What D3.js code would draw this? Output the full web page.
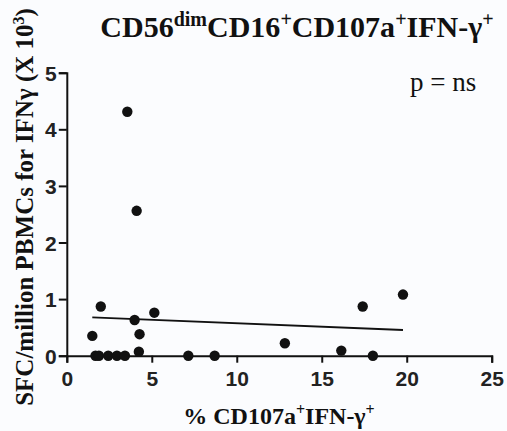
<!DOCTYPE html>
<html>
<head>
<meta charset="utf-8">
<script src="https://cdn.jsdelivr.net/npm/d3@7"></script>
<style>
  html, body { margin: 0; padding: 0; background: #fbfcfe; }
  svg { display: block; }
</style>
</head>
<body>
<svg id="chart" width="507" height="431"></svg>
<script>
// % CD107a+IFN-γ+ per donor
const pctCD107aIFNg = [3.56, 4.11, 2.0, 5.15, 3.99, 1.5, 4.28, 4.24, 1.69, 1.89, 2.44, 2.95, 3.42, 7.15, 8.7, 12.83, 16.15, 17.41, 19.78, 18.01];
// SFC/million PBMCs for IFNγ (x 10^3) per donor
const sfcIFNg = [4.31, 2.56, 0.87, 0.76, 0.63, 0.35, 0.38, 0.07, 0, 0, 0, 0, 0, 0, 0, 0.22, 0.09, 0.87, 1.08, 0];
const xTicks = [0, 5, 10, 15, 20, 25];
const yTicks = [0, 1, 2, 3, 4, 5];
const pLabel = "p = ns";

const svg = d3.select("#chart");
const x = d3.scaleLinear().domain([0, 25]).range([66.8, 491.7]);
const y = d3.scaleLinear().domain([0, 5]).range([355.7, 72.7]);

const data = pctCD107aIFNg.map((v, i) => ({ x: v, y: sfcIFNg[i] }));

// least-squares fit over the observed range
const mx = d3.mean(data, d => d.x), my = d3.mean(data, d => d.y);
const sxy = d3.sum(data, d => (d.x - mx) * (d.y - my));
const sxx = d3.sum(data, d => (d.x - mx) ** 2);
const slope = sxy / sxx, intercept = my - slope * mx;
const [x0, x1] = d3.extent(data, d => d.x);

// axes
const xAxis = svg.append("g")
  .attr("transform", `translate(0,${y(0)})`)
  .call(d3.axisBottom(x).tickValues(xTicks).tickSize(7).tickPadding(8).tickFormat(d3.format("d")));
const yAxis = svg.append("g")
  .attr("transform", `translate(${x(0)},0)`)
  .call(d3.axisLeft(y).tickValues(yTicks).tickSize(8).tickPadding(2).tickFormat(d3.format("d")));

[xAxis, yAxis].forEach(g => {
  g.select(".domain").attr("stroke", "#111").attr("stroke-width", 2);
  g.selectAll(".tick line").attr("stroke", "#111").attr("stroke-width", 2);
  g.selectAll(".tick text")
    .attr("fill", "#222")
    .style("font-family", "'Liberation Sans', Arial, sans-serif")
    .style("font-weight", "bold")
    .style("font-size", "21px");
});
yAxis.selectAll(".tick text").attr("dy", "0.36em");

// regression line
svg.append("line")
  .attr("x1", x(x0)).attr("y1", y(intercept + slope * x0))
  .attr("x2", x(x1)).attr("y2", y(intercept + slope * x1))
  .attr("stroke", "#111").attr("stroke-width", 1.8);

// points
svg.append("g").selectAll("circle")
  .data(data)
  .join("circle")
  .attr("cx", d => x(d.x))
  .attr("cy", d => y(d.y))
  .attr("r", 5.2)
  .attr("fill", "#111");

const serif = "'Liberation Serif', 'Times New Roman', serif";

// title
const title = svg.append("text")
  .attr("x", 297).attr("y", 37)
  .attr("text-anchor", "middle")
  .style("font-family", serif).style("font-weight", "bold").style("font-size", "30px")
  .attr("fill", "#111");
title.append("tspan").text("CD56");
title.append("tspan").text("dim").attr("dy", -11).style("font-size", "20px");
title.append("tspan").text("CD16").attr("dy", 11);
title.append("tspan").text("+").attr("dy", -11).style("font-size", "20px");
title.append("tspan").text("CD107a").attr("dy", 11);
title.append("tspan").text("+").attr("dy", -11).style("font-size", "20px");
title.append("tspan").text("IFN-γ").attr("dy", 11);
title.append("tspan").text("+").attr("dy", -11).style("font-size", "20px");

// x axis label
const xl = svg.append("text")
  .attr("x", 279).attr("y", 424)
  .attr("text-anchor", "middle")
  .style("font-family", serif).style("font-weight", "bold").style("font-size", "24px")
  .attr("fill", "#111");
xl.append("tspan").text("% CD107a");
xl.append("tspan").text("+").attr("dy", -9).style("font-size", "16px");
xl.append("tspan").text("IFN-γ").attr("dy", 9);
xl.append("tspan").text("+").attr("dy", -9).style("font-size", "16px");

// y axis label
const yl = svg.append("text")
  .attr("transform", "translate(33,207) rotate(-90)")
  .attr("text-anchor", "middle")
  .style("font-family", serif).style("font-weight", "bold").style("font-size", "25px")
  .attr("fill", "#111");
yl.append("tspan").text("SFC/million PBMCs for IFNγ (X 10");
yl.append("tspan").text("3").attr("dy", -9).style("font-size", "16px");
yl.append("tspan").text(")").attr("dy", 9);

// significance note
svg.append("text")
  .attr("x", 410).attr("y", 91)
  .style("font-family", serif).style("font-size", "27px")
  .attr("fill", "#111")
  .text(pLabel);
</script>
</body>
</html>
